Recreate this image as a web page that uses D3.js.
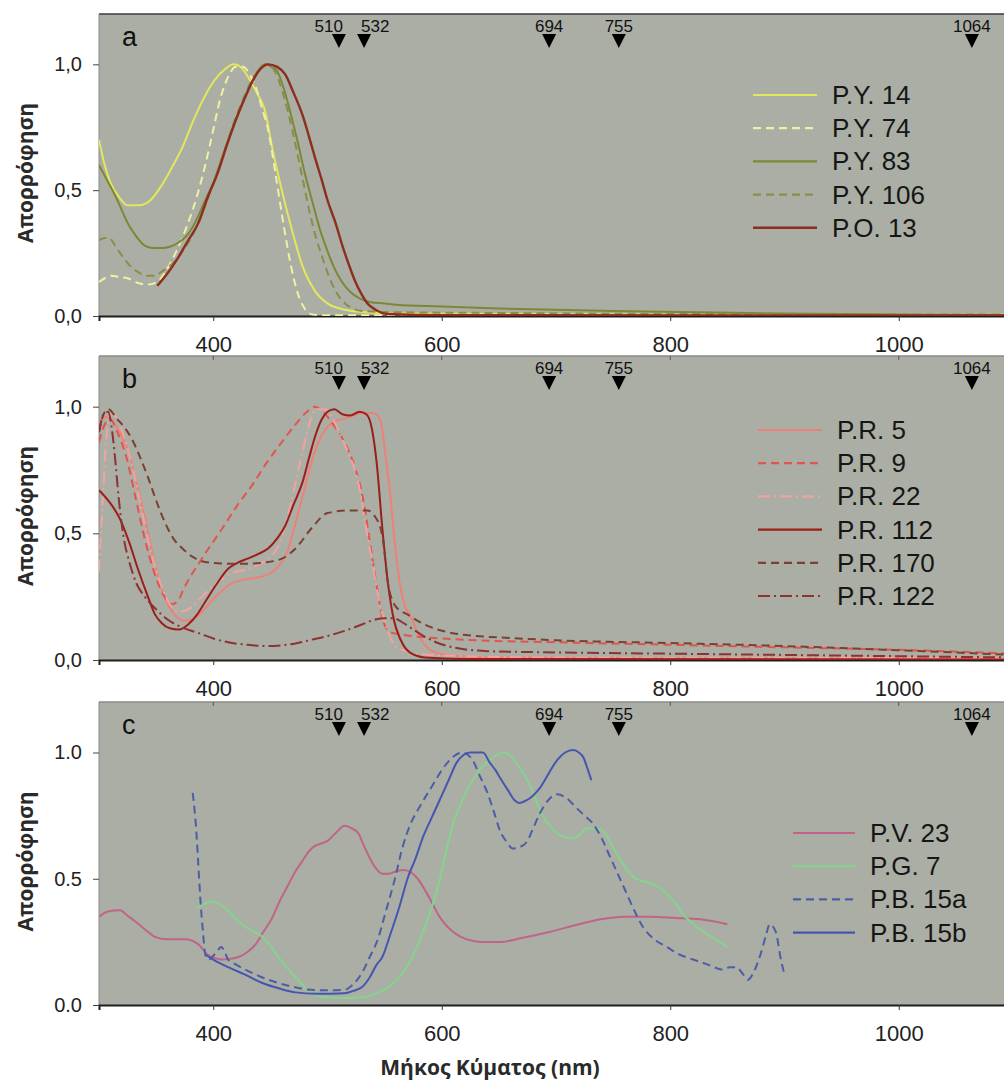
<!DOCTYPE html>
<html><head><meta charset="utf-8">
<script src="https://cdn.jsdelivr.net/npm/d3@7"></script>
<style>body{margin:0;background:#fff;} svg{display:block;}</style>
</head><body>
<svg id="chart" width="1004" height="1081"></svg>
<script>
// ---------- DATA ----------
const laserLines = [510, 532, 694, 755, 1064];
const xTicks = [400, 600, 800, 1000];
const yTicks = [0, 0.5, 1.0];
const panelLetters = ["a", "b", "c"];

// Panel a
const seriesNamesA = ["P.Y. 14", "P.Y. 74", "P.Y. 83", "P.Y. 106", "P.O. 13"];
const py14 = [[300,0.70],[305,0.60],[310,0.53],[318,0.47],[325,0.44],[335,0.44],[345,0.46],[355,0.52],[365,0.60],[373,0.67],[382,0.77],[390,0.85],[400,0.93],[410,0.98],[418,1.0],[426,0.98],[433,0.93],[439,0.88],[445,0.82],[452,0.66],[460,0.50],[469,0.34],[478,0.20],[489,0.10],[500,0.05],[515,0.025],[530,0.016],[560,0.01],[700,0.007],[900,0.005],[1100,0.005]];
const py74 = [[300,0.135],[305,0.15],[311,0.16],[318,0.155],[325,0.15],[335,0.13],[343,0.125],[352,0.14],[360,0.19],[368,0.26],[378,0.37],[386,0.48],[393,0.60],[400,0.74],[406,0.86],[413,0.95],[420,0.99],[426,0.99],[432,0.96],[438,0.9],[443,0.82],[448,0.74],[455,0.55],[462,0.35],[468,0.2],[474,0.09],[480,0.03],[487,0.006],[500,0.003],[700,0.003],[1100,0.003]];
const py83 = [[300,0.60],[307,0.54],[314,0.48],[320,0.42],[325,0.37],[332,0.32],[340,0.28],[348,0.27],[355,0.27],[362,0.275],[369,0.29],[377,0.32],[384,0.37],[392,0.45],[401,0.54],[410,0.66],[419,0.77],[427,0.86],[434,0.93],[440,0.98],[446,1.0],[451,0.99],[455,0.98],[462,0.9],[468,0.8],[474,0.69],[480,0.57],[487,0.45],[493,0.35],[499,0.27],[505,0.2],[512,0.14],[520,0.095],[528,0.07],[538,0.055],[550,0.05],[560,0.045],[600,0.038],[650,0.03],[750,0.02],[900,0.01],[1000,0.006],[1100,0.004]];
const py106 = [[300,0.30],[305,0.31],[309,0.31],[314,0.28],[320,0.24],[327,0.2],[334,0.175],[342,0.16],[349,0.16],[356,0.18],[362,0.2],[367,0.22],[375,0.27],[384,0.34],[392,0.43],[401,0.54],[410,0.66],[419,0.78],[427,0.87],[434,0.94],[441,0.98],[447,1.0],[453,0.98],[460,0.9],[466,0.8],[472,0.68],[478,0.55],[484,0.42],[490,0.31],[495,0.24],[501,0.16],[507,0.1],[513,0.06],[520,0.035],[530,0.02],[560,0.015],[650,0.012],[800,0.008],[1100,0.006]];
const po13 = [[351,0.12],[360,0.17],[369,0.23],[378,0.3],[387,0.37],[395,0.47],[404,0.57],[412,0.68],[419,0.77],[427,0.86],[434,0.93],[441,0.98],[448,1.0],[456,0.99],[463,0.96],[470,0.89],[478,0.8],[484,0.71],[489,0.63],[495,0.54],[500,0.46],[507,0.37],[513,0.28],[519,0.2],[524,0.14],[530,0.085],[535,0.05],[542,0.025],[553,0.008],[600,0.003],[1100,0.002]];

// Panel b
const seriesNamesB = ["P.R. 5", "P.R. 9", "P.R. 22", "P.R. 112", "P.R. 170", "P.R. 122"];
const pr5 = [[300,0.93],[305,0.96],[310,0.95],[318,0.90],[326,0.82],[334,0.68],[342,0.52],[350,0.36],[358,0.24],[366,0.18],[374,0.155],[382,0.16],[392,0.2],[402,0.25],[415,0.3],[430,0.32],[443,0.33],[455,0.36],[465,0.43],[472,0.54],[479,0.66],[486,0.78],[492,0.86],[498,0.91],[505,0.94],[512,0.95],[520,0.96],[530,0.975],[540,0.975],[546,0.95],[551,0.8],[555,0.65],[559,0.46],[563,0.31],[568,0.21],[572,0.18],[582,0.08],[590,0.04],[605,0.02],[650,0.01],[800,0.007],[1100,0.005]];
const pr9 = [[300,0.86],[305,0.93],[310,0.95],[316,0.9],[324,0.8],[332,0.64],[340,0.48],[348,0.35],[356,0.26],[364,0.22],[370,0.24],[373,0.27],[390,0.4],[408,0.52],[421,0.61],[434,0.69],[447,0.78],[460,0.86],[472,0.93],[482,0.98],[489,1.0],[496,0.98],[505,0.93],[517,0.84],[524,0.76],[531,0.64],[536,0.5],[540,0.38],[545,0.24],[549,0.15],[555,0.11],[565,0.1],[585,0.09],[620,0.08],[700,0.07],[800,0.06],[900,0.05],[1000,0.04],[1100,0.025]];
const pr22 = [[300,0.35],[303,0.6],[306,0.85],[310,0.97],[315,0.96],[322,0.88],[330,0.75],[338,0.58],[346,0.42],[354,0.3],[362,0.22],[370,0.19],[378,0.2],[390,0.25],[402,0.3],[415,0.34],[430,0.36],[445,0.39],[458,0.46],[468,0.62],[477,0.8],[484,0.93],[490,0.99],[498,0.99],[505,0.95],[512,0.88],[518,0.82],[527,0.7],[533,0.54],[539,0.39],[544,0.26],[550,0.15],[556,0.08],[565,0.04],[590,0.02],[700,0.01],[1100,0.008]];
const pr112 = [[300,0.67],[308,0.63],[318,0.56],[326,0.47],[334,0.36],[342,0.26],[349,0.18],[355,0.145],[362,0.125],[370,0.12],[378,0.14],[386,0.18],[393,0.23],[403,0.3],[413,0.36],[422,0.385],[430,0.40],[440,0.42],[448,0.44],[456,0.48],[463,0.53],[470,0.61],[478,0.70],[484,0.80],[489,0.88],[495,0.95],[500,0.98],[506,0.99],[513,0.97],[520,0.965],[528,0.98],[534,0.97],[539,0.91],[543,0.78],[548,0.52],[553,0.3],[558,0.16],[564,0.08],[572,0.03],[585,0.01],[620,0.004],[1100,0.002]];
const pr170 = [[300,0.9],[304,0.97],[308,0.99],[316,0.95],[322,0.92],[329,0.87],[336,0.8],[343,0.72],[350,0.63],[358,0.54],[365,0.48],[373,0.44],[381,0.41],[390,0.39],[400,0.383],[413,0.38],[428,0.38],[445,0.385],[460,0.40],[472,0.44],[486,0.52],[500,0.58],[518,0.59],[535,0.59],[541,0.57],[548,0.49],[553,0.3],[560,0.21],[570,0.18],[585,0.14],[605,0.11],[630,0.095],[660,0.087],[700,0.078],[800,0.067],[900,0.055],[950,0.047],[1020,0.035],[1100,0.02]];
const pr122 = [[300,0.9],[304,0.97],[308,0.98],[311,0.92],[314,0.8],[317,0.65],[321,0.5],[327,0.38],[333,0.3],[340,0.25],[350,0.2],[360,0.16],[372,0.13],[388,0.105],[400,0.085],[413,0.07],[430,0.06],[447,0.055],[460,0.058],[472,0.065],[486,0.08],[500,0.095],[515,0.115],[530,0.14],[542,0.16],[550,0.165],[558,0.165],[565,0.15],[572,0.13],[582,0.1],[595,0.07],[610,0.05],[640,0.035],[700,0.03],[800,0.025],[900,0.02],[1000,0.015],[1100,0.01]];

// Panel c
const seriesNamesC = ["P.V. 23", "P.G. 7", "P.B. 15a", "P.B. 15b"];
const pv23 = [[300,0.35],[308,0.37],[318,0.375],[326,0.35],[332,0.33],[340,0.3],[349,0.27],[360,0.26],[375,0.26],[387,0.24],[395,0.2],[402,0.185],[408,0.18],[415,0.183],[422,0.19],[430,0.21],[437,0.24],[444,0.29],[451,0.34],[458,0.41],[465,0.47],[472,0.53],[478,0.57],[484,0.61],[489,0.63],[495,0.64],[500,0.65],[507,0.68],[515,0.71],[521,0.7],[527,0.68],[531,0.64],[535,0.6],[541,0.55],[548,0.52],[554,0.52],[560,0.53],[567,0.535],[573,0.525],[579,0.5],[586,0.45],[592,0.4],[598,0.35],[605,0.31],[613,0.28],[622,0.26],[635,0.25],[651,0.25],[670,0.265],[695,0.29],[720,0.32],[739,0.34],[760,0.35],[782,0.35],[805,0.345],[826,0.34],[840,0.33],[850,0.32]];
const pg7 = [[385,0.385],[392,0.40],[400,0.41],[407,0.395],[413,0.375],[420,0.34],[428,0.31],[436,0.29],[443,0.27],[450,0.235],[457,0.19],[464,0.15],[472,0.11],[479,0.075],[486,0.047],[493,0.035],[500,0.03],[515,0.028],[530,0.03],[542,0.045],[553,0.07],[563,0.11],[572,0.17],[581,0.26],[590,0.37],[598,0.49],[604,0.61],[610,0.72],[618,0.81],[627,0.89],[635,0.94],[642,0.97],[648,0.99],[654,1.0],[662,0.98],[668,0.94],[675,0.89],[681,0.83],[686,0.77],[693,0.72],[701,0.68],[708,0.665],[715,0.66],[722,0.68],[727,0.70],[735,0.70],[742,0.685],[748,0.64],[753,0.6],[760,0.55],[767,0.51],[776,0.49],[785,0.48],[797,0.44],[805,0.40],[811,0.36],[818,0.33],[826,0.30],[838,0.265],[850,0.23]];
const pb15a = [[382,0.84],[385,0.7],[387,0.55],[389,0.4],[391,0.29],[393,0.2],[396,0.18],[399,0.19],[403,0.21],[407,0.23],[410,0.21],[413,0.18],[420,0.16],[428,0.14],[440,0.115],[457,0.087],[472,0.07],[486,0.06],[500,0.058],[515,0.06],[522,0.08],[530,0.126],[537,0.19],[544,0.26],[551,0.37],[559,0.5],[566,0.63],[573,0.72],[580,0.78],[592,0.87],[600,0.93],[607,0.97],[614,0.995],[618,1.0],[623,0.99],[627,0.97],[633,0.91],[640,0.84],[646,0.76],[651,0.69],[657,0.645],[662,0.62],[668,0.625],[675,0.65],[680,0.7],[686,0.76],[693,0.81],[701,0.835],[709,0.82],[718,0.78],[725,0.75],[732,0.72],[740,0.66],[747,0.59],[755,0.51],[762,0.44],[769,0.37],[776,0.31],[786,0.26],[797,0.23],[808,0.2],[820,0.18],[833,0.16],[846,0.14],[852,0.15],[858,0.15],[864,0.12],[868,0.1],[873,0.13],[879,0.2],[884,0.28],[887,0.32],[890,0.31],[893,0.28],[896,0.2],[900,0.12]];
const pb15b = [[393,0.2],[400,0.18],[413,0.15],[428,0.12],[443,0.087],[458,0.065],[472,0.05],[490,0.045],[515,0.047],[522,0.055],[530,0.07],[537,0.11],[543,0.16],[548,0.19],[555,0.28],[563,0.39],[570,0.5],[577,0.58],[584,0.67],[591,0.74],[598,0.81],[606,0.89],[613,0.96],[619,0.99],[625,1.0],[631,1.0],[636,1.0],[642,0.96],[647,0.93],[651,0.9],[658,0.85],[664,0.81],[668,0.80],[674,0.81],[680,0.83],[686,0.86],[694,0.92],[701,0.97],[708,1.0],[715,1.01],[720,1.0],[724,0.98],[728,0.93],[731,0.89]];

// ---------- STYLES / LAYOUT ----------
const DASH = "8,5", DASHDOT = "12,4,2,4";
const panels = [
  { letter: panelLetters[0], top: 14, bottom: 316, fmt: v => d3.format(".1f")(v).replace(".", ","),
    names: seriesNamesA, data: [py14, py74, py83, py106, po13],
    styles: [{c:"#e4e65c",d:null},{c:"#eef0a2",d:DASH},{c:"#7b8836",d:null},{c:"#8b8d4a",d:DASH},{c:"#8e2e1e",d:null,w:2.4}],
    leg: { x1: 753, x2: 817, tx: 832, y0: 95 } },
  { letter: panelLetters[1], top: 356, bottom: 660, fmt: v => d3.format(".1f")(v).replace(".", ","),
    names: seriesNamesB, data: [pr5, pr9, pr22, pr112, pr170, pr122],
    styles: [{c:"#ef8078",d:null},{c:"#e2544c",d:DASH},{c:"#f0a4a0",d:DASHDOT},{c:"#9a1e1a",d:null},{c:"#7a4032",d:DASH},{c:"#8e3232",d:DASHDOT}],
    leg: { x1: 758, x2: 822, tx: 837, y0: 430 } },
  { letter: panelLetters[2], top: 702, bottom: 1005, fmt: d3.format(".1f"),
    names: seriesNamesC, data: [pv23, pg7, pb15a, pb15b],
    styles: [{c:"#c06488",d:null},{c:"#84d48e",d:null},{c:"#4e5ea6",d:DASH},{c:"#4656ae",d:null}],
    leg: { x1: 793, x2: 855, tx: 870, y0: 833 } }
];
const LEFT = 99, RIGHT = 1013, LEG_STEP = 33.2;
const svg = d3.select("#chart");
const x = d3.scaleLinear().domain([300, 1100]).range([LEFT, RIGHT]);

panels.forEach((p, i) => {
  const y = d3.scaleLinear().domain([0, 1.2]).range([p.bottom, p.top]);
  const g = svg.append("g");
  g.append("rect").attr("x", LEFT).attr("y", p.top).attr("width", RIGHT - LEFT)
    .attr("height", p.bottom - p.top).attr("fill", "#abaea5");
  g.append("line").attr("x1", LEFT).attr("x2", RIGHT).attr("y1", p.top).attr("y2", p.top)
    .attr("stroke", i === 0 ? "#3a3a3a" : "#8a8a86").attr("stroke-width", 1.5);
  g.append("line").attr("x1", LEFT).attr("x2", LEFT).attr("y1", p.top).attr("y2", p.bottom)
    .attr("stroke", "#8a8c86").attr("stroke-width", 1);
  // small top ticks
  if (i > 0) g.selectAll(".tt").data(xTicks).join("line")
    .attr("x1", d => x(d)).attr("x2", d => x(d)).attr("y1", p.top).attr("y2", p.top + 4)
    .attr("stroke", "#555").attr("stroke-width", 1);

  const clipId = "clip" + i;
  svg.append("clipPath").attr("id", clipId).append("rect")
    .attr("x", LEFT).attr("y", p.top).attr("width", RIGHT - LEFT).attr("height", p.bottom - p.top);

  // bottom axis
  const xa = g.append("g").attr("transform", `translate(0,${p.bottom})`)
    .call(d3.axisBottom(x).tickValues(xTicks).tickSize(5).tickPadding(15).tickFormat(d3.format("d")));
  xa.select(".domain").attr("stroke", "#1e1e1e").attr("stroke-width", 2);
  xa.selectAll(".tick line").attr("stroke", "#333");
  xa.selectAll("text").attr("font-family", "Liberation Sans, Arial, sans-serif").attr("font-size", 22).attr("fill", "#222");

  // left axis
  const ya = g.append("g").attr("transform", `translate(${LEFT},0)`)
    .call(d3.axisLeft(y).tickValues(yTicks).tickSize(6).tickPadding(11).tickFormat(p.fmt));
  ya.select(".domain").remove();
  ya.selectAll(".tick line").attr("stroke", "#444");
  ya.selectAll("text").attr("font-family", "Liberation Sans, Arial, sans-serif").attr("font-size", 20).attr("fill", "#222");

  // curves
  const line = d3.line().x(d => x(d[0])).y(d => y(d[1])).curve(d3.curveMonotoneX);
  const cg = g.append("g").attr("clip-path", `url(#${clipId})`);
  p.data.forEach((s, k) => {
    const st = p.styles[k];
    cg.append("path").datum(s).attr("d", line).attr("fill", "none")
      .attr("stroke", st.c).attr("stroke-width", st.w || 2)
      .attr("stroke-dasharray", st.d).attr("stroke-linejoin", "round");
  });

  // laser markers
  const mk = g.append("g");
  mk.selectAll("path").data(laserLines).join("path")
    .attr("d", d => `M${x(d) - 7},${p.top + 20} L${x(d) + 7},${p.top + 20} L${x(d)},${p.top + 34} Z`)
    .attr("fill", "#000");
  mk.selectAll("text").data(laserLines).join("text")
    .attr("x", d => x(d) + (d === 510 ? 4 : d === 532 ? -3 : 0))
    .attr("y", p.top + 18)
    .attr("text-anchor", d => d === 510 ? "end" : d === 532 ? "start" : "middle")
    .attr("font-family", "Liberation Sans, Arial, sans-serif").attr("font-size", 17).attr("fill", "#111")
    .text(d => d);

  // panel letter
  g.append("text").attr("x", 122).attr("y", p.top + 32)
    .attr("font-family", "Liberation Sans, Arial, sans-serif").attr("font-size", 27).attr("fill", "#111")
    .text(p.letter);

  // legend
  const lg = g.append("g");
  p.names.forEach((n, k) => {
    const yy = p.leg.y0 + k * LEG_STEP, st = p.styles[k];
    lg.append("line").attr("x1", p.leg.x1).attr("x2", p.leg.x2).attr("y1", yy).attr("y2", yy)
      .attr("stroke", st.c).attr("stroke-width", st.w || 2.2).attr("stroke-dasharray", st.d);
    lg.append("text").attr("x", p.leg.tx).attr("y", yy + 9)
      .attr("font-family", "Liberation Sans, Arial, sans-serif").attr("font-size", 26).attr("fill", "#161616")
      .text(n);
  });

  // y axis title
  const cy = (p.top + p.bottom) / 2 + 8;
  g.append("text").attr("transform", `translate(25,${cy}) rotate(-90)`)
    .attr("text-anchor", "middle").attr("dominant-baseline", "central")
    .attr("font-family", "Open Sans, sans-serif").attr("font-weight", "bold").attr("font-size", 21)
    .attr("fill", "#2a2a2a").text("Απορρόφηση");
});

svg.append("text").attr("x", 490).attr("y", 1075).attr("text-anchor", "middle")
  .attr("font-family", "Open Sans, sans-serif").attr("font-weight", "bold").attr("font-size", 21)
  .attr("fill", "#2a2a2a").text("Μήκος Κύματος (nm)");
</script>
</body></html>
